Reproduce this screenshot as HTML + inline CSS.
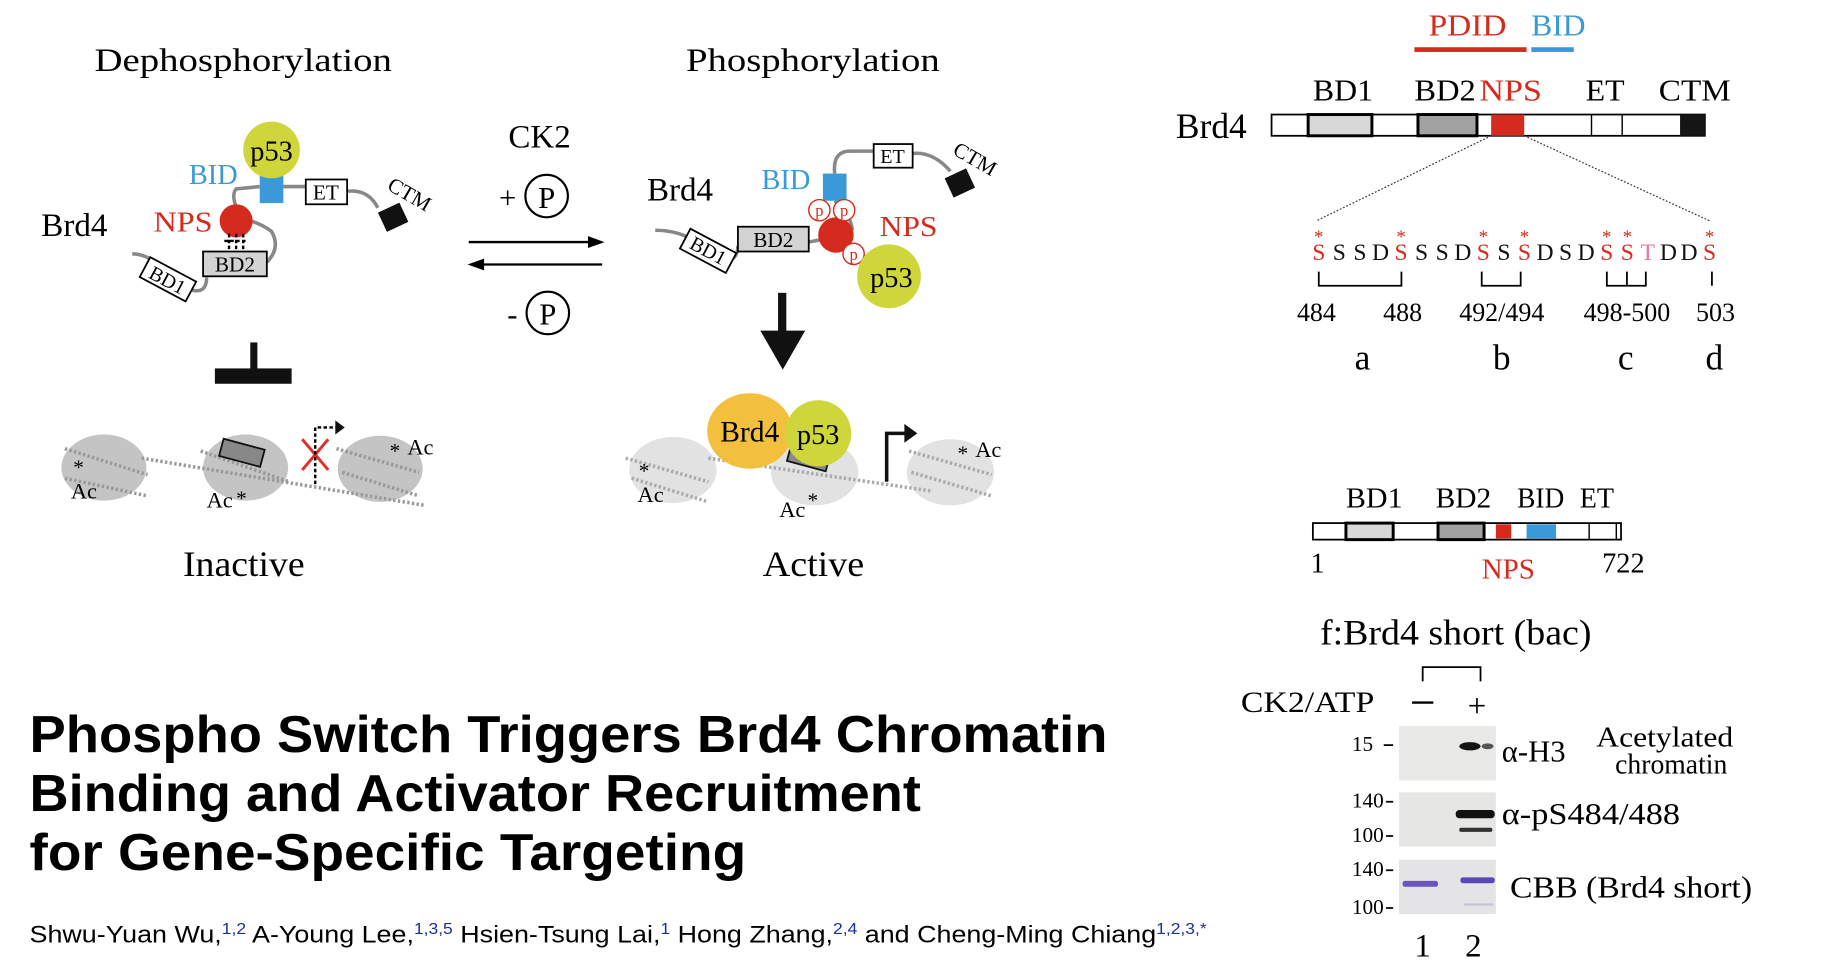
<!DOCTYPE html>
<html><head><meta charset="utf-8"><style>
html,body{margin:0;padding:0;background:#fff;}
svg{display:block;}
.s{font-family:"Liberation Serif",serif;}
.a{font-family:"Liberation Sans",sans-serif;}
</style></head><body>
<svg width="1830" height="960" viewBox="0 0 1550 813" preserveAspectRatio="none" xmlns="http://www.w3.org/2000/svg">
<rect width="1550" height="813" fill="#fff"/>
<g class="s">
<text x="80" y="60" font-size="28" textLength="252" lengthAdjust="spacingAndGlyphs">Dephosphorylation</text>
<text x="581" y="60" font-size="28" textLength="215" lengthAdjust="spacingAndGlyphs">Phosphorylation</text>
<text x="457" y="125" font-size="28" text-anchor="middle">CK2</text>
<text x="430" y="176" font-size="26" text-anchor="middle">+</text>
<circle cx="463" cy="166" r="18" fill="none" stroke="#000" stroke-width="1.8"/>
<text x="463" y="176" font-size="26" text-anchor="middle">P</text>
<text x="434" y="275" font-size="26" text-anchor="middle">-</text>
<circle cx="464" cy="265" r="18" fill="none" stroke="#000" stroke-width="1.8"/>
<text x="464" y="275" font-size="26" text-anchor="middle">P</text>
<line x1="397" y1="205" x2="505" y2="205" stroke="#000" stroke-width="2"/><polygon points="512,205 498,200 498,210" fill="#000"/>
<line x1="404" y1="224" x2="510" y2="224" stroke="#000" stroke-width="2"/><polygon points="396,224 410,219 410,229" fill="#000"/>

<!-- left complex -->
<path d="M112 215 Q128 215 140 232 M160 245 Q175 250 175 235 M226 222 Q238 210 230 196 Q222 190 212 187 M200 175 Q196 165 200 160 L220 158 M240 158 L259 158 M294 162 Q312 160 320 176" fill="none" stroke="#888" stroke-width="3"/>
<text x="35" y="200" font-size="28">Brd4</text>
<text x="130" y="196" font-size="24" fill="#d52b1e" textLength="50" lengthAdjust="spacingAndGlyphs">NPS</text>
<circle cx="200" cy="187" r="14" fill="#d52b1e"/>
<path d="M194 198 V212 M200 198 V212 M206 198 V212 M190 204 H210" stroke="#000" stroke-width="2" stroke-dasharray="3,2"/>
<text x="160" y="156" font-size="24" fill="#3a9ad9">BID</text>
<rect x="220" y="148" width="20" height="24" fill="#3a9ad9"/>
<circle cx="230" cy="127" r="24" fill="#cfd63b"/>
<text x="230" y="136" font-size="24" text-anchor="middle">p53</text>
<rect x="259" y="152" width="35" height="21" fill="#fff" stroke="#000" stroke-width="1.5"/>
<text x="276" y="169" font-size="18" text-anchor="middle">ET</text>
<rect x="323" y="175" width="20" height="18" fill="#111" transform="rotate(-25 333 184)"/>
<text x="327" y="160" font-size="18" transform="rotate(30 327 160)">CTM</text>
<rect x="172" y="213" width="54" height="21" fill="#d3d3d3" stroke="#000" stroke-width="1.5"/>
<text x="199" y="230" font-size="18" text-anchor="middle">BD2</text>
<g transform="rotate(28 142 237)"><rect x="120" y="227" width="44" height="19" fill="#fff" stroke="#000" stroke-width="1.5"/><text x="142" y="243" font-size="17" text-anchor="middle">BD1</text></g>
<rect x="212" y="290" width="6" height="26" fill="#111"/><rect x="182" y="312" width="65" height="13" fill="#111"/>
<!-- inactive nucleosomes -->
<ellipse cx="88" cy="396" rx="36" ry="28" fill="#c4c4c4"/>
<ellipse cx="208" cy="396" rx="36" ry="28" fill="#c4c4c4"/>
<ellipse cx="322" cy="397" rx="36" ry="28" fill="#c4c4c4"/>
<path d="M55 380 L125 402 M55 405 L125 420 M120 388 L360 428 M170 382 L245 408 M285 380 L355 400 M290 400 L355 420" stroke="#999" stroke-width="3" stroke-dasharray="2,2" fill="none"/>
<rect x="187" y="376" width="36" height="15" fill="#888" stroke="#111" stroke-width="1.5" transform="rotate(15 205 383)"/>
<path d="M256 372 L278 398 M278 372 L256 398" stroke="#e03127" stroke-width="2.5"/>
<path d="M267 410 V362 H285" stroke="#000" stroke-width="2" stroke-dasharray="3,2" fill="none"/><polygon points="292,362 284,356 284,368" fill="#111"/>
<text x="60" y="422" font-size="19">Ac</text><text x="62" y="402" font-size="18">*</text>
<text x="175" y="430" font-size="19">Ac</text><text x="200" y="428" font-size="18">*</text>
<text x="330" y="388" font-size="18">*</text><text x="345" y="385" font-size="19">Ac</text>
<text x="155" y="488" font-size="30" textLength="103" lengthAdjust="spacingAndGlyphs">Inactive</text>
</g>

<g class="s">
<path d="M555 195 Q575 195 590 205 M612 220 Q625 222 625 208 M685 205 L695 203 M707 170 Q720 180 722 195 M707 147 Q705 128 720 128 L740 128 M773 130 Q790 128 805 145" fill="none" stroke="#888" stroke-width="3"/>
<text x="548" y="170" font-size="28">Brd4</text>
<text x="645" y="160" font-size="24" fill="#3a9ad9">BID</text>
<rect x="697" y="147" width="20" height="23" fill="#3a9ad9"/>
<rect x="740" y="122" width="33" height="20" fill="#fff" stroke="#000" stroke-width="1.5"/>
<text x="756" y="138" font-size="17" text-anchor="middle">ET</text>
<rect x="803" y="146" width="20" height="18" fill="#111" transform="rotate(-25 813 155)"/>
<text x="806" y="130" font-size="18" transform="rotate(30 806 130)">CTM</text>
<g transform="rotate(28 600 212)"><rect x="578" y="203" width="44" height="19" fill="#fff" stroke="#000" stroke-width="1.5"/><text x="600" y="218" font-size="17" text-anchor="middle">BD1</text></g>
<rect x="625" y="192" width="60" height="21" fill="#d3d3d3" stroke="#000" stroke-width="1.5"/>
<text x="655" y="209" font-size="18" text-anchor="middle">BD2</text>
<circle cx="708" cy="199" r="15" fill="#d52b1e"/>
<g fill="#fff" stroke="#d52b1e" stroke-width="1.2" font-size="13"><circle cx="694" cy="178" r="9"/><circle cx="715" cy="178" r="9"/><circle cx="723" cy="215" r="9"/></g>
<g fill="#d52b1e" font-size="14" text-anchor="middle"><text x="694" y="183">p</text><text x="715" y="183">p</text><text x="723" y="220">p</text></g>
<text x="745" y="200" font-size="24" fill="#d52b1e" textLength="49" lengthAdjust="spacingAndGlyphs">NPS</text>
<circle cx="753" cy="234" r="27" fill="#cfd63b"/>
<text x="755" y="243" font-size="24" text-anchor="middle">p53</text>
<rect x="659" y="248" width="7" height="36" fill="#111"/><polygon points="644,280 682,280 663,313" fill="#111"/>
<ellipse cx="570" cy="398" rx="37" ry="28" fill="#e2e2e2"/>
<ellipse cx="690" cy="400" rx="37" ry="28" fill="#e2e2e2"/>
<ellipse cx="805" cy="400" rx="37" ry="28" fill="#e2e2e2"/>
<path d="M530 388 L600 408 M535 405 L600 425 M600 388 L790 416 M770 382 L840 402 M772 400 L840 420" stroke="#aaa" stroke-width="3" stroke-dasharray="2,2" fill="none"/>
<rect x="668" y="380" width="34" height="15" fill="#888" stroke="#111" stroke-width="1.5" transform="rotate(15 685 387)"/>
<ellipse cx="635" cy="365" rx="36" ry="32" fill="#f2c03c"/>
<circle cx="693" cy="367" r="28" fill="#cfd63b"/>
<text x="635" y="374" font-size="25" text-anchor="middle">Brd4</text>
<text x="693" y="376" font-size="24" text-anchor="middle">p53</text>
<path d="M751 408 V367 H768" stroke="#111" stroke-width="3" fill="none"/><polygon points="777,367 766,359 766,375" fill="#111"/>
<text x="540" y="425" font-size="19">Ac</text><text x="541" y="405" font-size="18">*</text>
<text x="660" y="438" font-size="19">Ac</text><text x="684" y="430" font-size="18">*</text>
<text x="811" y="390" font-size="18">*</text><text x="826" y="387" font-size="19">Ac</text>
<text x="646" y="488" font-size="30" textLength="86" lengthAdjust="spacingAndGlyphs">Active</text>
</g>

<g class="s">
<text x="1210" y="30" font-size="26" fill="#d52b1e" textLength="66" lengthAdjust="spacingAndGlyphs">PDID</text>
<rect x="1198" y="40" width="95" height="4" fill="#d52b1e"/>
<text x="1297" y="30" font-size="26" fill="#3a9ad9" textLength="46" lengthAdjust="spacingAndGlyphs">BID</text>
<rect x="1297" y="40" width="36" height="4" fill="#3a9ad9"/>
<g font-size="26"><text x="1112" y="85" textLength="51" lengthAdjust="spacingAndGlyphs">BD1</text><text x="1198" y="85" textLength="52" lengthAdjust="spacingAndGlyphs">BD2</text><text x="1253" y="85" fill="#d52b1e" textLength="53" lengthAdjust="spacingAndGlyphs">NPS</text><text x="1343" y="85" textLength="33" lengthAdjust="spacingAndGlyphs">ET</text><text x="1405" y="85" textLength="61" lengthAdjust="spacingAndGlyphs">CTM</text></g>
<text x="996" y="117" font-size="30">Brd4</text>
<rect x="1077" y="97" width="367" height="18" fill="#fff" stroke="#000" stroke-width="1.5"/>
<rect x="1108" y="97" width="54" height="18" fill="#d8d8d8" stroke="#000" stroke-width="2.5"/>
<rect x="1201" y="97" width="50" height="18" fill="#a2a2a2" stroke="#000" stroke-width="2.5"/>
<rect x="1263" y="97" width="28" height="18" fill="#d52b1e"/>
<path d="M1348 97 V115 M1374 97 V115" stroke="#000" stroke-width="1.2"/>
<rect x="1423" y="97" width="21" height="18" fill="#151515"/>
<path d="M1263 115 L1115 187 M1291 115 L1448 187" stroke="#333" stroke-width="1" stroke-dasharray="1.5,1.5"/>
<g id="seq" font-size="20" text-anchor="middle"></g>
<g stroke="#000" stroke-width="1.5" fill="none"><path d="M1117 230 V242 H1187 V230"/><path d="M1255 230 V242 H1288 V230"/><path d="M1361 230 V242 H1394 V230 M1378 230 V242"/><path d="M1450 230 V242"/></g>
<g font-size="22" text-anchor="middle"><text x="1115" y="272">484</text><text x="1188" y="272">488</text><text x="1272" y="272">492/494</text><text x="1378" y="272">498-500</text><text x="1453" y="272">503</text></g>
<g font-size="30" text-anchor="middle"><text x="1154" y="313">a</text><text x="1272" y="313">b</text><text x="1377" y="313">c</text><text x="1452" y="313">d</text></g>
</g>

<g class="s">
<g font-size="24"><text x="1140" y="430" textLength="48" lengthAdjust="spacingAndGlyphs">BD1</text><text x="1216" y="430" textLength="47" lengthAdjust="spacingAndGlyphs">BD2</text><text x="1285" y="430" textLength="40" lengthAdjust="spacingAndGlyphs">BID</text><text x="1338" y="430" textLength="29" lengthAdjust="spacingAndGlyphs">ET</text></g>
<rect x="1112" y="443" width="261" height="14" fill="#fff" stroke="#000" stroke-width="1.5"/>
<rect x="1140" y="443" width="40" height="14" fill="#d8d8d8" stroke="#000" stroke-width="2.5"/>
<rect x="1218" y="443" width="39" height="14" fill="#a2a2a2" stroke="#000" stroke-width="2.5"/>
<rect x="1267" y="444" width="13" height="12" fill="#d52b1e"/>
<rect x="1293" y="444" width="25" height="12" fill="#3a9ad9"/>
<path d="M1346 443 V457 M1369 443 V457" stroke="#000" stroke-width="1.2"/>
<text x="1110" y="485" font-size="24">1</text>
<text x="1255" y="490" font-size="24" fill="#d52b1e" textLength="45" lengthAdjust="spacingAndGlyphs">NPS</text>
<text x="1357" y="485" font-size="24">722</text>
</g>

<g class="s">
<text x="1118" y="546" font-size="30" textLength="230" lengthAdjust="spacingAndGlyphs">f:Brd4 short (bac)</text>
<path d="M1205 577 V565 H1254 V577" stroke="#000" stroke-width="1.5" fill="none"/>
<text x="1051" y="603" font-size="25" textLength="113" lengthAdjust="spacingAndGlyphs">CK2/ATP</text>
<rect x="1196" y="594" width="18" height="2" fill="#000"/>
<text x="1251" y="607" font-size="28" text-anchor="middle">+</text>
<rect x="1185" y="615" width="82" height="46" fill="#e8e8e6"/>
<rect x="1185" y="671" width="82" height="46" fill="#e6e6e4"/>
<rect x="1185" y="728" width="82" height="46" fill="#e4e3e6"/>
<ellipse cx="1245" cy="632" rx="9" ry="3.5" fill="#151515"/><ellipse cx="1260" cy="632" rx="5" ry="2.5" fill="#555"/>
<rect x="1233" y="686" width="33" height="7" rx="3" fill="#111"/>
<rect x="1236" y="701" width="28" height="3.5" rx="1.5" fill="#333"/>
<rect x="1188" y="746" width="30" height="5" rx="2" fill="#6a54c0"/>
<rect x="1237" y="743" width="29" height="5" rx="2" fill="#5a46b8"/>
<rect x="1240" y="765" width="25" height="2" fill="#c9c4d8"/>
<g font-size="18" text-anchor="end"><text x="1163" y="636">15</text><text x="1172" y="684">140</text><text x="1172" y="713">100</text><text x="1172" y="742">140</text><text x="1172" y="774">100</text></g>
<path d="M1172 631 H1180 M1174 679 H1180 M1174 708 H1180 M1174 737 H1180 M1174 769 H1180" stroke="#000" stroke-width="1.5"/>
<text x="1272" y="645" font-size="26">α-H3</text>
<text x="1352" y="632" font-size="24" textLength="116" lengthAdjust="spacingAndGlyphs">Acetylated</text>
<text x="1368" y="655" font-size="24" textLength="95" lengthAdjust="spacingAndGlyphs">chromatin</text>
<text x="1272" y="698" font-size="26" textLength="151" lengthAdjust="spacingAndGlyphs">α-pS484/488</text>
<text x="1279" y="760" font-size="26" textLength="205" lengthAdjust="spacingAndGlyphs">CBB (Brd4 short)</text>
<text x="1205" y="810" font-size="28" text-anchor="middle">1</text><text x="1248" y="810" font-size="28" text-anchor="middle">2</text>
</g>

<g class="a">
<g font-size="44" font-weight="bold">
<text x="25" y="637" textLength="913" lengthAdjust="spacingAndGlyphs">Phospho Switch Triggers Brd4 Chromatin</text>
<text x="25" y="687" textLength="755" lengthAdjust="spacingAndGlyphs">Binding and Activator Recruitment</text>
<text x="25" y="737" textLength="607" lengthAdjust="spacingAndGlyphs">for Gene-Specific Targeting</text>
</g>
<text x="25" y="798" font-size="20" textLength="997" lengthAdjust="spacingAndGlyphs">Shwu-Yuan Wu,<tspan fill="#1a2f9a" font-size="13" dy="-7">1,2</tspan><tspan dy="7"> A-Young Lee,</tspan><tspan fill="#1a2f9a" font-size="13" dy="-7">1,3,5</tspan><tspan dy="7"> Hsien-Tsung Lai,</tspan><tspan fill="#1a2f9a" font-size="13" dy="-7">1</tspan><tspan dy="7"> Hong Zhang,</tspan><tspan fill="#1a2f9a" font-size="13" dy="-7">2,4</tspan><tspan dy="7"> and Cheng-Ming Chiang</tspan><tspan fill="#1a2f9a" font-size="13" dy="-7">1,2,3,*</tspan></text>
</g>
</svg>
<script>
const seqLetters = ["S","S","S","D","S","S","S","D","S","S","S","D","S","D","S","S","T","D","D","S"];
const seqRed = [0,4,8,10,14,15,19];
const g = document.getElementById('seq');
const NS = 'http://www.w3.org/2000/svg';
seqLetters.forEach((c,i)=>{
  const x = 1117 + i*(1448-1117)/19;
  const t = document.createElementNS(NS,'text');
  t.setAttribute('x',x); t.setAttribute('y',220);
  t.setAttribute('fill', seqRed.includes(i)?'#d52b1e':(c==='T'?'#e07aa8':'#111'));
  t.textContent = c;
  
  
  g.appendChild(t);
  if (seqRed.includes(i)) {
    const s = document.createElementNS(NS,'text');
    s.setAttribute('x',x); s.setAttribute('y',206);
    s.setAttribute('fill','#d52b1e'); s.setAttribute('font-size','16');
    s.textContent='*';
    
    
    g.appendChild(s);
  }
});
</script>
</body></html>
